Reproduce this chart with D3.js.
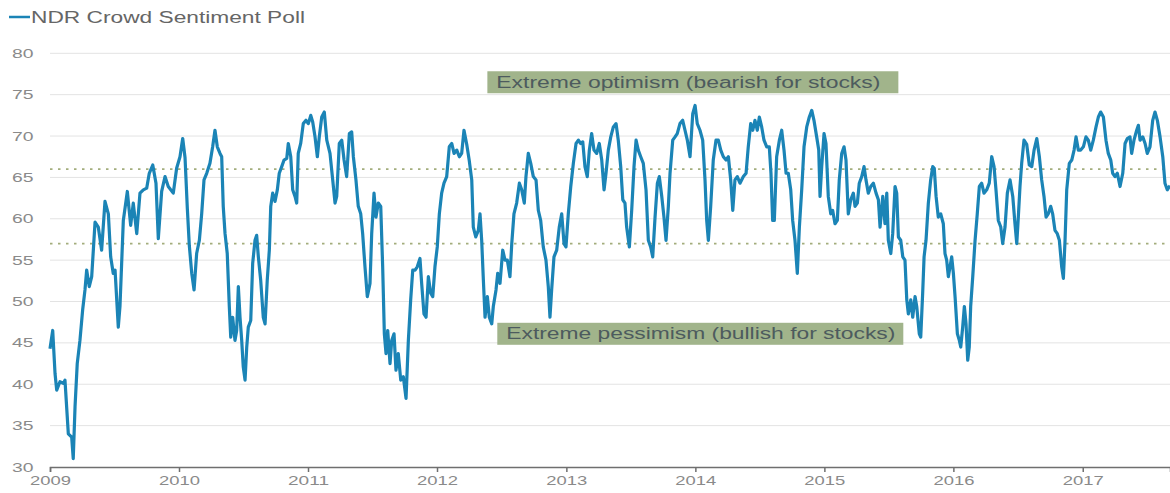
<!DOCTYPE html>
<html>
<head>
<meta charset="utf-8">
<script src="https://cdn.jsdelivr.net/npm/d3@7"></script>
<style>
	body { margin: 0; background: #fff; }
	svg { display: block; font-family: "Liberation Sans", Arial, sans-serif; }
</style>
</head>
<body>
<svg id="chart" width="1170" height="493"></svg>
<script>
const seriesName = "NDR Crowd Sentiment Poll";
const startYear = 2009;

// time in years since start of 2009 (roughly weekly)
const t = [
	0.000, 0.021, 0.039, 0.052, 0.077, 0.103, 0.116, 0.142, 0.168, 0.180, 0.194, 0.211, 0.232, 0.253, 0.271, 0.284,
	0.304, 0.323, 0.349, 0.374, 0.400, 0.426, 0.452, 0.470, 0.490, 0.504, 0.529, 0.542, 0.568, 0.599, 0.625, 0.645,
	0.672, 0.697, 0.723, 0.749, 0.769, 0.796, 0.821, 0.839, 0.865, 0.891, 0.916, 0.955, 0.981, 1.007, 1.028, 1.046,
	1.064, 1.079, 1.098, 1.116, 1.136, 1.157, 1.175, 1.193, 1.214, 1.239, 1.260, 1.278, 1.296, 1.317, 1.330, 1.342,
	1.356, 1.373, 1.389, 1.400, 1.415, 1.433, 1.446, 1.459, 1.472, 1.485, 1.497, 1.511, 1.524, 1.536, 1.555, 1.570,
	1.588, 1.601, 1.614, 1.632, 1.652, 1.666, 1.683, 1.699, 1.710, 1.725, 1.743, 1.761, 1.776, 1.795, 1.813, 1.834,
	1.846, 1.865, 1.880, 1.898, 1.911, 1.923, 1.942, 1.962, 1.983, 2.001, 2.020, 2.035, 2.053, 2.071, 2.086, 2.105,
	2.125, 2.144, 2.169, 2.190, 2.208, 2.221, 2.241, 2.260, 2.278, 2.298, 2.319, 2.337, 2.350, 2.370, 2.388, 2.407,
	2.422, 2.440, 2.458, 2.479, 2.492, 2.510, 2.525, 2.543, 2.562, 2.577, 2.590, 2.603, 2.616, 2.634, 2.647, 2.665,
	2.680, 2.698, 2.717, 2.737, 2.758, 2.776, 2.794, 2.810, 2.828, 2.845, 2.866, 2.879, 2.897, 2.913, 2.931, 2.949,
	2.965, 2.982, 3.000, 3.016, 3.034, 3.052, 3.073, 3.093, 3.112, 3.130, 3.151, 3.171, 3.189, 3.207, 3.228, 3.248,
	3.267, 3.279, 3.298, 3.318, 3.331, 3.344, 3.357, 3.370, 3.388, 3.403, 3.422, 3.434, 3.455, 3.468, 3.486, 3.507,
	3.525, 3.543, 3.563, 3.577, 3.594, 3.615, 3.636, 3.654, 3.674, 3.687, 3.705, 3.724, 3.744, 3.765, 3.783, 3.801,
	3.821, 3.842, 3.860, 3.873, 3.886, 3.904, 3.925, 3.945, 3.964, 3.982, 3.997, 4.015, 4.034, 4.054, 4.075, 4.093,
	4.111, 4.127, 4.144, 4.162, 4.178, 4.196, 4.214, 4.235, 4.255, 4.274, 4.292, 4.307, 4.325, 4.344, 4.364, 4.385,
	4.402, 4.421, 4.437, 4.454, 4.467, 4.488, 4.506, 4.524, 4.540, 4.557, 4.576, 4.596, 4.617, 4.635, 4.653, 4.669,
	4.687, 4.705, 4.720, 4.739, 4.756, 4.772, 4.790, 4.803, 4.824, 4.842, 4.859, 4.880, 4.901, 4.919, 4.937, 4.958,
	4.979, 4.997, 5.014, 5.035, 5.056, 5.074, 5.087, 5.100, 5.118, 5.138, 5.159, 5.177, 5.196, 5.216, 5.237, 5.255,
	5.273, 5.289, 5.306, 5.324, 5.345, 5.371, 5.392, 5.409, 5.428, 5.444, 5.461, 5.479, 5.495, 5.513, 5.531, 5.552,
	5.572, 5.585, 5.598, 5.611, 5.629, 5.650, 5.668, 5.686, 5.702, 5.719, 5.738, 5.753, 5.771, 5.789, 5.805, 5.823,
	5.841, 5.862, 5.882, 5.901, 5.918, 5.939, 5.955, 5.965, 5.978, 5.996, 6.011, 6.029, 6.048, 6.063, 6.081, 6.099,
	6.114, 6.133, 6.151, 6.166, 6.184, 6.203, 6.223, 6.236, 6.254, 6.269, 6.288, 6.306, 6.321, 6.339, 6.358, 6.378,
	6.399, 6.417, 6.430, 6.451, 6.468, 6.482, 6.494, 6.513, 6.528, 6.546, 6.559, 6.572, 6.590, 6.606, 6.623, 6.637,
	6.649, 6.668, 6.683, 6.701, 6.714, 6.734, 6.745, 6.760, 6.771, 6.786, 6.804, 6.822, 6.838, 6.850, 6.864, 6.881,
	6.900, 6.920, 6.933, 6.946, 6.959, 6.972, 6.985, 6.998, 7.011, 7.029, 7.044, 7.055, 7.070, 7.083, 7.096, 7.109,
	7.121, 7.132, 7.148, 7.166, 7.183, 7.199, 7.217, 7.235, 7.256, 7.276, 7.295, 7.313, 7.328, 7.346, 7.365, 7.380,
	7.398, 7.416, 7.437, 7.458, 7.475, 7.489, 7.501, 7.514, 7.527, 7.545, 7.566, 7.586, 7.605, 7.623, 7.644, 7.664,
	7.682, 7.700, 7.716, 7.733, 7.752, 7.767, 7.785, 7.803, 7.819, 7.837, 7.850, 7.863, 7.876, 7.896, 7.915, 7.933,
	7.948, 7.966, 7.984, 8.005, 8.025, 8.043, 8.062, 8.082, 8.103, 8.121, 8.139, 8.160, 8.180, 8.198, 8.217, 8.232,
	8.250, 8.268, 8.289, 8.310, 8.328, 8.345, 8.366, 8.379, 8.397, 8.418, 8.431, 8.444, 8.465, 8.483, 8.500, 8.521,
	8.542, 8.560, 8.578, 8.599, 8.620, 8.637, 8.655, 8.676
];

const sentiment = [
	44.3, 46.5, 41.3, 39.3, 40.3, 40.1, 40.5, 34.0, 33.6, 31.0, 37.3, 42.5, 45.3, 49.0, 51.4, 53.8,
	51.8, 53.0, 59.6, 59.0, 56.2, 62.1, 60.6, 55.4, 53.4, 53.8, 46.9, 49.4, 59.8, 63.3, 59.2, 61.9,
	58.2, 63.1, 63.5, 63.7, 65.5, 66.5, 64.3, 57.6, 63.3, 65.1, 63.9, 63.1, 66.1, 67.5, 69.7, 67.4,
	61.2, 56.8, 53.4, 51.4, 55.8, 57.4, 60.6, 64.7, 65.5, 66.7, 68.7, 70.7, 68.7, 67.9, 67.5, 61.5,
	58.2, 55.8, 49.4, 45.7, 48.1, 45.3, 46.5, 51.8, 48.1, 45.3, 42.1, 40.5, 44.5, 46.9, 47.7, 54.6,
	57.4, 58.0, 55.4, 52.6, 48.1, 47.3, 52.6, 56.2, 61.5, 63.1, 62.1, 63.5, 65.5, 66.3, 67.1, 67.3,
	69.1, 67.5, 63.5, 62.7, 61.9, 67.9, 69.1, 71.5, 71.9, 71.5, 72.5, 71.7, 69.9, 67.5, 69.9, 72.3,
	72.9, 69.5, 67.9, 64.7, 61.9, 62.7, 69.1, 69.5, 67.1, 65.1, 70.3, 70.5, 67.5, 64.7, 61.5, 60.6,
	58.2, 54.2, 50.6, 52.2, 58.2, 63.1, 60.2, 61.9, 61.5, 54.2, 46.1, 43.7, 46.5, 42.5, 45.3, 46.1,
	41.7, 43.7, 40.5, 40.9, 38.3, 45.3, 50.2, 53.8, 53.8, 54.2, 55.2, 52.2, 48.5, 48.1, 53.0, 51.0,
	50.6, 54.2, 56.6, 60.6, 63.1, 64.3, 65.1, 68.7, 69.1, 67.9, 68.3, 67.5, 67.9, 70.7, 69.0, 67.0,
	64.7, 59.0, 57.8, 58.6, 60.6, 57.4, 52.6, 48.1, 50.6, 48.1, 47.3, 49.4, 51.4, 53.4, 52.2, 56.2,
	55.0, 55.0, 53.0, 57.0, 60.6, 61.9, 64.3, 63.5, 61.9, 65.1, 67.9, 66.7, 65.1, 64.7, 61.0, 59.8,
	56.6, 55.0, 51.8, 48.1, 51.4, 55.4, 56.2, 59.0, 60.6, 57.0, 56.6, 60.6, 63.9, 66.7, 69.1, 69.5,
	69.1, 69.3, 66.3, 65.1, 68.3, 70.3, 68.3, 67.9, 69.1, 67.1, 63.5, 65.5, 68.3, 69.9, 71.1, 71.5,
	69.5, 66.3, 62.3, 61.9, 59.0, 56.6, 61.0, 66.3, 69.5, 68.3, 67.5, 66.7, 63.5, 57.4, 56.6, 55.4,
	60.2, 64.3, 65.1, 62.7, 60.2, 57.4, 61.5, 65.5, 69.5, 69.9, 70.3, 71.5, 71.9, 70.7, 69.5, 67.5,
	72.7, 73.7, 71.5, 70.7, 69.5, 64.7, 59.8, 57.4, 61.5, 67.1, 69.5, 69.5, 68.3, 67.5, 67.1, 67.5,
	64.7, 61.0, 64.7, 65.1, 64.3, 65.1, 65.5, 68.7, 71.5, 70.7, 71.9, 70.7, 72.3, 71.1, 69.5, 68.7,
	68.7, 65.5, 59.8, 59.8, 67.5, 69.5, 70.7, 68.3, 65.5, 65.5, 63.5, 59.8, 57.4, 53.4, 59.0, 63.5,
	68.7, 71.1, 72.3, 73.1, 71.9, 69.9, 68.3, 62.7, 66.3, 70.3, 69.1, 62.7, 60.6, 61.0, 59.4, 59.8,
	64.7, 67.9, 68.7, 67.1, 60.6, 62.3, 63.1, 61.5, 61.9, 64.3, 65.1, 66.3, 64.7, 63.1, 63.9, 64.3,
	63.1, 62.3, 59.0, 62.7, 59.4, 63.1, 57.4, 55.8, 58.2, 63.9, 63.1, 57.8, 57.4, 55.4, 55.0, 50.2,
	48.5, 50.2, 48.1, 50.6, 49.4, 46.1, 45.7, 51.0, 55.4, 57.4, 61.9, 64.7, 66.3, 66.1, 62.7, 60.2,
	60.6, 59.4, 55.8, 55.0, 53.0, 54.2, 55.4, 53.4, 50.6, 46.1, 45.3, 44.5, 46.9, 49.4, 47.3, 42.9,
	44.5, 49.4, 53.0, 57.4, 60.6, 63.9, 64.3, 63.1, 63.5, 64.3, 67.5, 66.3, 63.5, 59.8, 59.0, 57.0,
	59.0, 63.1, 64.7, 62.7, 59.4, 57.0, 60.2, 63.9, 66.7, 69.5, 69.0, 66.5, 66.3, 68.3, 69.7, 67.5,
	64.7, 62.7, 60.2, 60.6, 61.5, 60.6, 58.6, 58.2, 57.4, 54.2, 52.8, 57.4, 63.5, 66.7, 67.1, 68.3,
	69.9, 68.3, 68.3, 68.7, 69.9, 69.5, 68.3, 69.5, 71.1, 72.3, 72.9, 72.3, 69.5, 67.9, 67.1, 65.5,
	65.1, 65.5, 63.9, 65.5, 69.1, 69.7, 69.9, 67.9, 69.5, 70.7, 71.3, 69.5, 69.9, 69.1, 67.9, 68.7,
	71.9, 72.9, 71.9, 69.9, 67.5, 64.3, 63.5, 64.0
];

const yTicks = [30, 35, 40, 45, 50, 55, 60, 65, 70, 75, 80];
const bandLevels = [66, 57];
const notes = [
	{ text: "Extreme optimism (bearish for stocks)", year: 2012.388, value: 76.5, width: 411, textWidth: 384 },
	{ text: "Extreme pessimism (bullish for stocks)", year: 2012.465, value: 46.1, width: 406, textWidth: 389 }
];

const lineColor = "#1b84b6";
const yearMs = 365.25 * 864e5;
const t0 = Date.UTC(startYear, 0, 1);
const toDate = (yrs) => new Date(t0 + yrs * yearMs);

const data = t.map((v, i) => ({ date: toDate(v), value: sentiment[i] }));

const svg = d3.select("#chart");
const plot = { left: 50, right: 1170, top: 53.3, bottom: 467 };

const x = d3.scaleUtc()
	.domain([toDate(0), toDate(t[t.length - 1])])
	.range([plot.left, plot.right]);
const y = d3.scaleLinear().domain([30, 80]).range([plot.bottom, plot.top]);

// gridlines
svg.append("g")
	.selectAll("line")
	.data(yTicks.slice(1))
	.join("line")
	.attr("x1", plot.left)
	.attr("x2", plot.right)
	.attr("y1", (d) => y(d))
	.attr("y2", (d) => y(d))
	.attr("stroke", "#e3e3e3")
	.attr("stroke-width", 1);

// y labels, stretched a bit like the source picture
svg.append("g")
	.selectAll("text")
	.data(yTicks)
	.join("text")
	.attr("x", 12)
	.attr("y", (d) => y(d) + 4.5)
	.attr("font-size", 13)
	.attr("fill", "#8a8a8a")
	.attr("textLength", 21.5)
	.attr("lengthAdjust", "spacingAndGlyphs")
	.text((d) => d);

// dotted threshold lines
svg.append("g")
	.selectAll("line")
	.data(bandLevels)
	.join("line")
	.attr("x1", plot.left)
	.attr("x2", plot.right)
	.attr("y1", (d) => y(d))
	.attr("y2", (d) => y(d))
	.attr("stroke", "#a3ad7c")
	.attr("stroke-width", 1.6)
	.attr("stroke-dasharray", "2.5,5.5");

// x axis
const xAxis = d3.axisBottom(x)
	.ticks(d3.utcYear.every(1))
	.tickSize(5)
	.tickFormat(d3.utcFormat("%Y"));

const gx = svg.append("g")
	.attr("transform", `translate(0,${plot.bottom})`)
	.call(xAxis);
gx.select(".domain").attr("stroke", "#6f6f6f").attr("stroke-width", 1.5);
gx.selectAll(".tick line").attr("stroke", "#6f6f6f").attr("stroke-width", 1.5);
gx.selectAll(".tick text")
	.attr("y", 14)
	.attr("dy", "0.3em")
	.attr("font-size", 13)
	.attr("font-family", "Liberation Sans, Arial, sans-serif")
	.attr("fill", "#8a8a8a")
	.attr("textLength", 41)
	.attr("lengthAdjust", "spacingAndGlyphs");

// the series
const line = d3.line()
	.x((d) => x(d.date))
	.y((d) => y(d.value));

svg.append("path")
	.datum(data)
	.attr("fill", "none")
	.attr("stroke", lineColor)
	.attr("stroke-width", 3.2)
	.attr("stroke-linejoin", "round")
	.attr("d", line);

// annotation boxes
const noteG = svg.append("g")
	.selectAll("g")
	.data(notes)
	.join("g")
	.attr("transform", (d) => `translate(${x(toDate(d.year - startYear))},${y(d.value)})`);

noteG.append("rect")
	.attr("x", 0)
	.attr("y", -11)
	.attr("width", (d) => d.width)
	.attr("height", 22)
	.attr("fill", "#a1b48b");

noteG.append("text")
	.attr("x", 9)
	.attr("y", 5.5)
	.attr("font-size", 16)
	.attr("fill", "#4d5b5e")
	.attr("textLength", (d) => d.textWidth)
	.attr("lengthAdjust", "spacingAndGlyphs")
	.text((d) => d.text);

// legend
const legend = svg.append("g");
legend.append("line")
	.attr("x1", 9)
	.attr("x2", 30)
	.attr("y1", 17)
	.attr("y2", 17)
	.attr("stroke", lineColor)
	.attr("stroke-width", 2.5);
legend.append("text")
	.attr("x", 31)
	.attr("y", 23)
	.attr("font-size", 16)
	.attr("fill", "#666")
	.attr("textLength", 274)
	.attr("lengthAdjust", "spacingAndGlyphs")
	.text(seriesName);
</script>
</body>
</html>
